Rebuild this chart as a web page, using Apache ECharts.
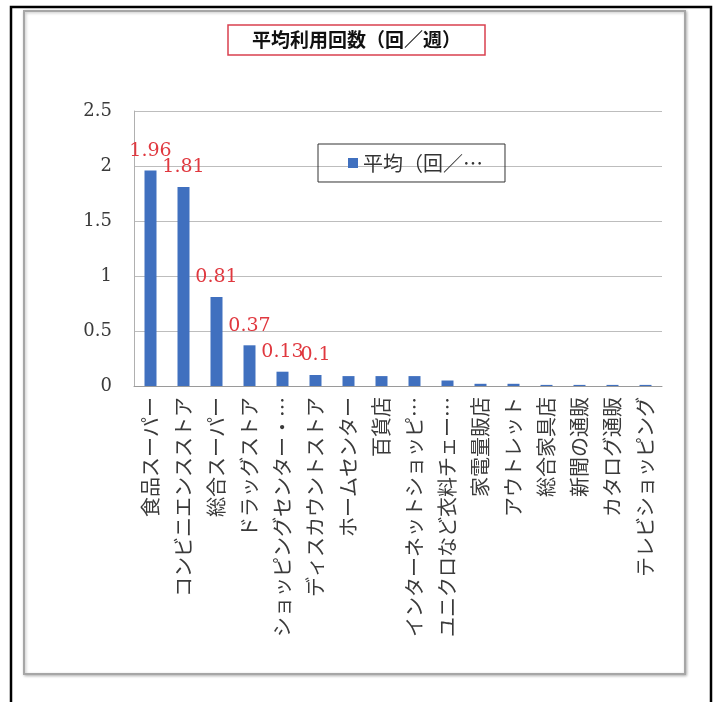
<!DOCTYPE html>
<html>
<head>
<meta charset="utf-8">
<script src="https://cdn.jsdelivr.net/npm/echarts@6/dist/echarts.min.js"></script>
<style>
  html, body { margin: 0; padding: 0; background: #fff; }
  #chart { width: 716px; height: 702px; }
</style>
</head>
<body>
<div id="chart"></div>
<script>
// Store categories (as printed on the axis) and average visits per week
const categories = [
  '食品スーパー',
  'コンビニエンスストア',
  '総合スーパー',
  'ドラッグストア',
  'ショッピングセンター・…',
  'ディスカウントストア',
  'ホームセンター',
  '百貨店',
  'インターネットショッピ…',
  'ユニクロなど衣料チェー…',
  '家電量販店',
  'アウトレット',
  '総合家具店',
  '新聞の通販',
  'カタログ通販',
  'テレビショッピング'
];
const averageVisits = [1.96, 1.81, 0.81, 0.37, 0.13, 0.1, 0.09, 0.09, 0.09, 0.05, 0.02, 0.02, 0.01, 0.01, 0.01, 0.01];
const labeledBars = 6;            // value labels are shown on the leading bars only
const yTicks = { min: 0, max: 2.5, interval: 0.5 };
const chartTitle = '平均利用回数（回／週）';
const seriesName = '平均（回／週）';

const chart = echarts.init(document.getElementById('chart'), null, { renderer: 'canvas' });

const barData = averageVisits.map((v, i) => ({
  value: v,
  label: { show: i < labeledBars }
}));

chart.setOption({
  backgroundColor: '#ffffff',
  animation: false,
  graphic: [
    {
      type: 'rect',
      shape: { x: 11, y: 7, width: 700, height: 720 },
      style: { fill: 'none', stroke: '#000', lineWidth: 2.5 },
      silent: true, z: 0
    },
    {
      type: 'rect',
      shape: { x: 24, y: 11, width: 661, height: 663 },
      style: {
        fill: '#fff', stroke: '#a6a6a6', lineWidth: 2,
        shadowBlur: 3, shadowColor: 'rgba(0,0,0,0.25)', shadowOffsetX: 1, shadowOffsetY: 1
      },
      silent: true, z: -1
    }
  ],
  title: {
    text: chartTitle,
    left: 228,
    top: 25,
    padding: [5, 24],
    borderColor: '#d9404f',
    borderWidth: 1.5,
    textStyle: {
      fontFamily: 'Noto Sans CJK JP',
      fontSize: 19,
      fontWeight: 'bold',
      lineHeight: 20,
      color: '#111'
    }
  },
  legend: {
    left: 318,
    top: 144,
    padding: [9, 22, 9, 30],
    borderColor: '#333',
    borderWidth: 1,
    itemWidth: 10,
    itemHeight: 10,
    icon: 'rect',
    textStyle: {
      fontFamily: 'Noto Sans CJK JP',
      fontSize: 20,
      color: '#333',
      width: 125,
      overflow: 'truncate',
      ellipsis: '…'
    },
    data: [seriesName]
  },
  grid: {
    left: 134,
    top: 111,
    right: 54,
    bottom: 316,
    containLabel: false
  },
  xAxis: {
    type: 'category',
    data: categories,
    axisLine: { show: true, lineStyle: { color: '#9a9a9a', width: 1 } },
    axisTick: { show: false },
    axisLabel: {
      interval: 0,
      rotate: 90,
      margin: 11,
      fontFamily: 'Noto Sans CJK JP',
      fontSize: 20,
      color: '#3a3a3a'
    }
  },
  yAxis: {
    type: 'value',
    min: yTicks.min,
    max: yTicks.max,
    interval: yTicks.interval,
    axisLine: { show: true, lineStyle: { color: '#b0b0b0', width: 1 } },
    axisTick: { show: false },
    splitLine: { lineStyle: { color: '#bdbdbd', width: 1 } },
    axisLabel: {
      margin: 22,
      fontFamily: 'DejaVu Serif',
      fontSize: 18,
      color: '#3a3a3a',
      formatter: v => String(v)
    }
  },
  series: [{
    name: seriesName,
    type: 'bar',
    data: barData,
    barWidth: 12,
    itemStyle: { color: '#4070bf' },
    label: {
      position: 'top',
      distance: 10,
      fontFamily: 'DejaVu Serif',
      fontSize: 19,
      color: '#e0383f'
    }
  }]
});
</script>
</body>
</html>
